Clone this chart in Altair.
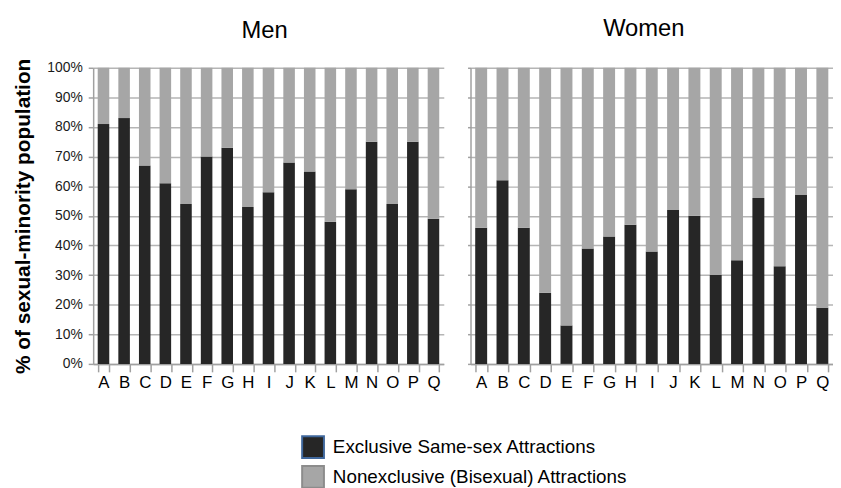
import altair as alt
import pandas as pd

categories = list("ABCDEFGHIJKLMNOPQ")
series = ["Exclusive Same-sex Attractions", "Nonexclusive (Bisexual) Attractions"]
men_exclusive = [81, 83, 67, 61, 54, 70, 73, 53, 58, 68, 65, 48, 59, 75, 54, 75, 49]
men_nonexclusive = [19, 17, 33, 39, 46, 30, 27, 47, 42, 32, 35, 52, 41, 25, 46, 25, 51]
women_exclusive = [46, 62, 46, 24, 13, 39, 43, 47, 38, 52, 50, 30, 35, 56, 33, 57, 19]
women_nonexclusive = [54, 38, 54, 76, 87, 61, 57, 53, 62, 48, 50, 70, 65, 44, 67, 43, 81]
y_ticks = [0, 10, 20, 30, 40, 50, 60, 70, 80, 90, 100]

FONT = "Liberation Sans"
GRID = "#b5b5b5"
AXIS = "#a0a0a0"


def frame(excl, non):
    rows = []
    for c, e, n in zip(categories, excl, non):
        rows.append({"cat": c, "series": series[0], "ord": 0, "value": e})
        rows.append({"cat": c, "series": series[1], "ord": 1, "value": n})
    return pd.DataFrame(rows)


legend = alt.Legend(
    title=None,
    orient="none",
    direction="vertical",
    legendX=210,
    legendY=371,
    padding=0,
    symbolType="square",
    symbolSize=484,
    symbolStrokeWidth=2,
    symbolOpacity=1,
    labelFont=FONT,
    labelFontSize=19,
    labelColor="black",
    labelOffset=8,
    labelLimit=0,
    rowPadding=0,
)

color = alt.Color(
    "series:N",
    scale=alt.Scale(domain=series, range=["#262626", "#a6a6a6"]),
    legend=legend,
)
stroke = alt.Stroke(
    "series:N",
    scale=alt.Scale(domain=series, range=["#3f679c", "#8c8c8c"]),
    legend=legend,
)


def panel(df, title, width, left, dx, offset):
    x = alt.X(
        "cat:N",
        sort=categories,
        scale=alt.Scale(paddingInner=0.44, paddingOuter=0.22),
        axis=alt.Axis(
            title=None,
            labelAngle=0,
            tickBand="extent",
            tickSize=8,
            tickColor=AXIS,
            tickWidth=1.5,
            domainColor=AXIS,
            domainWidth=1.5,
            labelFont=FONT,
            labelFontSize=17,
            labelColor="black",
            labelPadding=3,
            grid=False,
        ),
    )
    if left:
        yaxis = alt.Axis(
            values=y_ticks,
            labelExpr="datum.value + '%'",
            title="% of sexual-minority population",
            titleFont=FONT,
            titleFontWeight="bold",
            titleFontSize=21,
            titleColor="black",
            titlePadding=13,
            labelFont=FONT,
            labelFontSize=14,
            labelColor="#1a1a1a",
            labelPadding=6,
            tickSize=5,
            tickColor=AXIS,
            tickWidth=1.5,
            domainColor=AXIS,
            domainWidth=1.5,
            gridColor=GRID,
            gridWidth=1.5,
        )
    else:
        yaxis = alt.Axis(
            values=y_ticks,
            labels=False,
            title=None,
            tickSize=3,
            tickColor=AXIS,
            tickWidth=1.5,
            domainColor=AXIS,
            domainWidth=1.5,
            gridColor=GRID,
            gridWidth=1.5,
        )
    y = alt.Y(
        "value:Q",
        stack="zero",
        scale=alt.Scale(domain=[0, 100], nice=False),
        axis=yaxis,
    )
    return (
        alt.Chart(df)
        .mark_bar(strokeWidth=0)
        .encode(x=x, y=y, color=color, stroke=stroke, order=alt.Order("ord:Q"))
        .properties(
            width=width,
            height=299,
            title=alt.TitleParams(
                title,
                font=FONT,
                fontSize=24,
                fontWeight="normal",
                color="black",
                anchor="middle",
                frame="group",
                baseline="alphabetic",
                offset=offset,
                dx=dx,
            ),
        )
    )


men = panel(frame(men_exclusive, men_nonexclusive), "Men", 354, True, -4, -4)
women = panel(frame(women_exclusive, women_nonexclusive), "Women", 366, False, -8, 7)

chart = (
    alt.hconcat(men, women, spacing=23)
    .properties(padding={"left": 5, "top": 7, "right": 0, "bottom": 0})
    .configure_view(stroke=None)
)

chart.save("out.html", embed_options={"renderer": "svg", "actions": False})
